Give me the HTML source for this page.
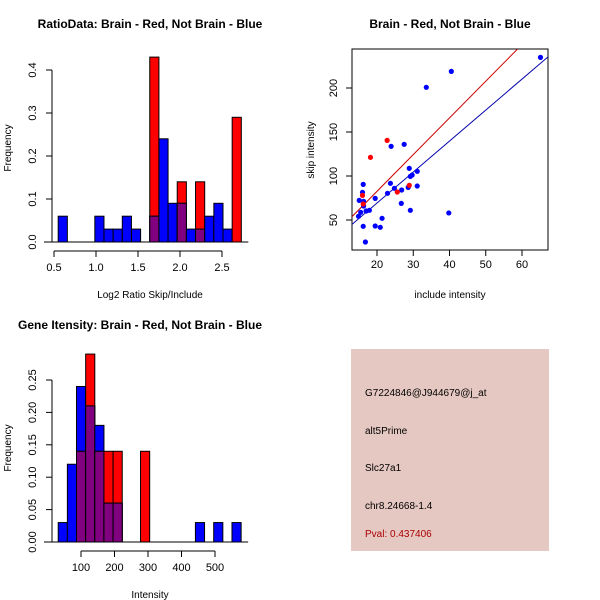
<!DOCTYPE html>
<html><head><meta charset="utf-8"><style>
html,body{margin:0;padding:0;background:#fff;}
svg{display:block;font-family:"Liberation Sans",sans-serif;}
</style></head><body>
<svg id="s" width="600" height="600" viewBox="0 0 600 600" xmlns="http://www.w3.org/2000/svg">
<rect width="600" height="600" fill="#fff"/>
<clipPath id="cp"><rect x="352" y="49" width="196" height="201"/></clipPath>
</svg>
<script>
// ---- Panel 1: ratio histogram ----
const ratioBinStart = 0.55, ratioBinWidth = 0.109;
const ratioBlue = [0.06,0,0,0,0.06,0.03,0.03,0.06,0.03,0,0.06,0.24,0.09,0.09,0.03,0.03,0.06,0.09,0.03,0];
const ratioRed  = [0,0,0,0,0,0,0,0,0,0,0.43,0,0,0.14,0,0.14,0,0,0,0.29];
const ratioXTicks = [0.5,1.0,1.5,2.0,2.5];
const ratioYTicks = [0.0,0.1,0.2,0.3,0.4];
// ---- Panel 2: scatter ----
const blueX = [65.1,40.5,33.6,23.9,27.5,28.9,31.1,29.7,29.2,23.7,31.1,28.6,24.8,26.8,22.9,19.5,16.2,16,15.1,16.3,16.3,17.9,17,15.5,14.9,26.7,29.2,39.8,21.4,16.2,19.5,20.9,16.8];
const blueY = [234.8,218.9,200.8,133.7,136,108.7,105.3,101.1,99.6,91.7,88.6,87.1,86,84.1,80.3,74.6,90.5,81.4,72.3,71.2,65.9,61,60.2,58.7,54.2,68.9,61,58,51.9,42.8,43.2,41.7,25];
const redX = [22.8,18.2,28.9,25.6,16,16.2];
const redY = [140.5,121.2,89.4,81.8,78,68.2];
const redFit = [-0.8,4.17];   // intercept, slope
const blueFit = [-1.1,3.52];
const scatXTicks = [20,30,40,50,60];
const scatYTicks = [50,100,150,200];
// ---- Panel 3: intensity histogram ----
const intBinStart = 32, intBinWidth = 27.3;
const intBlue = [0.03,0.12,0.24,0.21,0.18,0.06,0.06,0,0,0,0,0,0,0,0,0.03,0,0.03,0,0.03];
const intRed  = [0,0,0.14,0.29,0.14,0.14,0.14,0,0,0.14,0,0,0,0,0,0,0,0,0,0];
const intXTicks = [100,200,300,400,500];
const intYTicks = [0.00,0.05,0.10,0.15,0.20,0.25];
const intYLabels = ["0.00","0.05","0.10","0.15","0.20","0.25"];

const svg = document.getElementById('s');
const NS = 'http://www.w3.org/2000/svg';
function mk(tag, attrs, parent){
  const e = document.createElementNS(NS, tag);
  for (const k in attrs) e.setAttribute(k, attrs[k]);
  (parent||svg).appendChild(e);
  return e;
}
function txt(x,y,s,opts,name){
  const t = mk('text',Object.assign({x:x,y:y,'font-size':11,'text-anchor':'middle',fill:'#000'},opts||{}));
  t.textContent = s;
  
  
  return t;
}
function lin(d0,d1,p0,p1){ return v => p0 + (v-d0)/(d1-d0)*(p1-p0); }

function histogram(cfg){
  const g = mk('g',{});
  
  
  const X = cfg.X, Y = cfg.Y;
  for (let i=0;i<cfg.blue.length;i++){
    const x0 = X(cfg.start + i*cfg.width), x1 = X(cfg.start + (i+1)*cfg.width);
    const b = cfg.blue[i], r = cfg.red[i];
    const parts = [];
    if (b>0) parts.push(['#0000ff', b, 'blue']);
    if (r>0) parts.push(['#ff0000', r, 'red']);
    if (b>0 && r>0) parts.push(['#800080', Math.min(b,r)-1e-9, 'overlap']);
    parts.sort((a,c)=>c[1]-a[1]);
    for (const p of parts){
      const rect = mk('rect',{x:x0,y:Y(p[1]),width:x1-x0,height:Y(0)-Y(p[1]),fill:p[0],stroke:'#000','stroke-width':1},g);
      
      
    }
  }
  const ax = mk('g',{stroke:'#000','stroke-width':1,fill:'none'},g);
  const xt = cfg.xTicks, yt = cfg.yTicks;
  mk('line',{x1:X(xt[0]),x2:X(xt[xt.length-1]),y1:cfg.xAxisY,y2:cfg.xAxisY},ax);
  xt.forEach(v=>{
    mk('line',{x1:X(v),x2:X(v),y1:cfg.xAxisY,y2:cfg.xAxisY+6},ax);
    txt(X(v),cfg.xAxisY+20,cfg.xFmt(v),{},'x-tick-label');
  });
  mk('line',{x1:cfg.yAxisX,x2:cfg.yAxisX,y1:Y(yt[0]),y2:Y(yt[yt.length-1])},ax);
  const px = cfg.yAxisX-20;
  yt.forEach((v,i)=>{
    mk('line',{x1:cfg.yAxisX,x2:cfg.yAxisX-6,y1:Y(v),y2:Y(v)},ax);
    txt(px,Y(v)+4,cfg.yFmt(v,i),{transform:`rotate(-90 ${px} ${Y(v)})`},'y-tick-label');
  });
  mk('line',{x1:cfg.yAxisX-8,x2:X(cfg.start+cfg.blue.length*cfg.width)+7,y1:Y(0),y2:Y(0)},ax);
}

// Panel 1
const X1 = lin(0.5,2.5,54,222), Y1 = lin(0,0.4,242,70);
histogram({name:'ratio-histogram',X:X1,Y:Y1,start:ratioBinStart,width:ratioBinWidth,blue:ratioBlue,red:ratioRed,
  xTicks:ratioXTicks,yTicks:ratioYTicks,xAxisY:251,yAxisX:52,xFmt:v=>v.toFixed(1),yFmt:v=>v.toFixed(1)});
txt(150,28,'RatioData: Brain - Red, Not Brain - Blue',{'font-weight':'bold','font-size':12},'ratio-title');
txt(150,298,'Log2 Ratio Skip/Include',{'font-size':10},'ratio-x-axis-title');
txt(11,148,'Frequency',{'font-size':10,transform:'rotate(-90 11 148)'},'ratio-y-axis-title');

// Panel 2
const X2 = lin(20,60,377,522), Y2 = lin(50,200,220,88);
const sg = mk('g',{});


const box = mk('rect',{x:352,y:49,width:196,height:201,fill:'none',stroke:'#000'},sg);


function fitLine(f,color,name){
  const xa=10, xb=70;
  const l = mk('line',{x1:X2(xa),y1:Y2(f[0]+f[1]*xa),x2:X2(xb),y2:Y2(f[0]+f[1]*xb),stroke:color,'stroke-width':1,'clip-path':'url(#cp)'},sg);
  
  
}
fitLine(redFit,'#cc0000','red-fit-line');
fitLine(blueFit,'#0000aa','blue-fit-line');
blueX.forEach((x,i)=>{
  const c = mk('circle',{cx:X2(x),cy:Y2(blueY[i]),r:2.6,fill:'#0000ff'},sg);
  
  
});
redX.forEach((x,i)=>{
  const c = mk('circle',{cx:X2(x),cy:Y2(redY[i]),r:2.6,fill:'#ff0000'},sg);
  
  
});
scatXTicks.forEach(v=>{
  mk('line',{x1:X2(v),x2:X2(v),y1:250,y2:256,stroke:'#000'},sg);
  txt(X2(v),268,String(v),{},'x-tick-label');
});
scatYTicks.forEach(v=>{
  mk('line',{x1:352,x2:346,y1:Y2(v),y2:Y2(v),stroke:'#000'},sg);
  txt(333,Y2(v)+4,String(v),{transform:`rotate(-90 333 ${Y2(v)})`},'y-tick-label');
});
txt(450,28,'Brain - Red, Not Brain - Blue',{'font-weight':'bold','font-size':12},'scatter-title');
txt(450,298,'include intensity',{'font-size':10},'scatter-x-axis-title');
txt(314,150,'skip intensity',{'font-size':10,transform:'rotate(-90 314 150)'},'scatter-y-axis-title');

// Panel 3
const X3 = lin(100,500,81,215), Y3 = lin(0,0.25,542,380);
histogram({name:'intensity-histogram',X:X3,Y:Y3,start:intBinStart,width:intBinWidth,blue:intBlue,red:intRed,
  xTicks:intXTicks,yTicks:intYTicks,xAxisY:551,yAxisX:52,xFmt:v=>String(v),yFmt:(v,i)=>intYLabels[i]});
txt(140,329,'Gene Itensity: Brain - Red, Not Brain - Blue',{'font-weight':'bold','font-size':12},'intensity-title');
txt(150,598,'Intensity',{'font-size':10},'intensity-x-axis-title');
txt(11,448,'Frequency',{'font-size':10,transform:'rotate(-90 11 448)'},'intensity-y-axis-title');

// Panel 4: info box
const ib = mk('rect',{x:351,y:349,width:198,height:202,fill:'#e6c8c2'});


txt(365,396,'G7224846@J944679@j_at',{'text-anchor':'start','font-size':10},'probe-id');
txt(365,434,'alt5Prime',{'text-anchor':'start','font-size':10},'event-type');
txt(365,471,'Slc27a1',{'text-anchor':'start','font-size':10},'gene-name');
txt(365,509,'chr8.24668-1.4',{'text-anchor':'start','font-size':10},'chrom-location');
txt(365,537,'Pval: 0.437406',{'text-anchor':'start','font-size':10,fill:'#aa0000'},'p-value');
</script>
</body></html>
